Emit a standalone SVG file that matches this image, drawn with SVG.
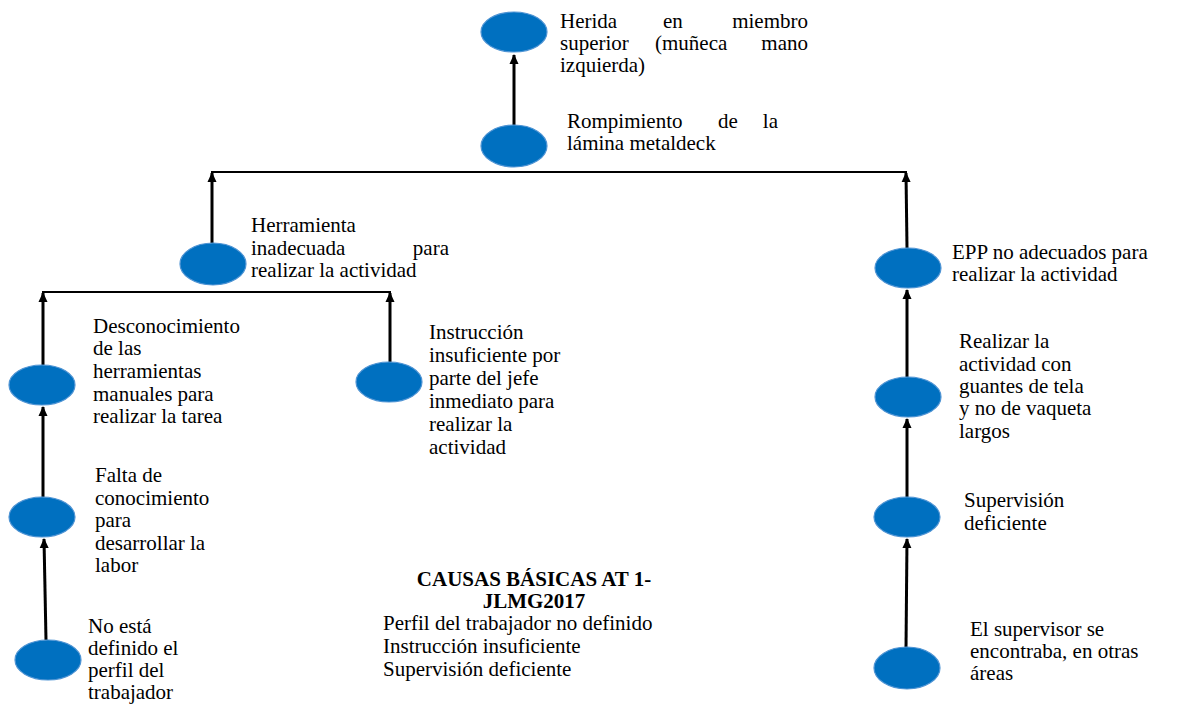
<svg xmlns="http://www.w3.org/2000/svg" width="1182" height="704" viewBox="0 0 1182 704">
<style>
.n{fill:#0070C0;stroke:#4f94d4;stroke-width:1.2}
.t{font-family:'Liberation Serif','Times New Roman',serif;font-size:21px;fill:#000}
.b{font-family:'Liberation Serif','Times New Roman',serif;font-size:21px;font-weight:bold;fill:#000}
.e{text-anchor:end}
.m{text-anchor:middle}
.c{stroke:#000;stroke-width:3;fill:none}
.h{stroke:#000;stroke-width:2;fill:none}
</style>
<defs>
<marker id="ah" markerUnits="userSpaceOnUse" markerWidth="10" markerHeight="10" refX="9" refY="5" orient="auto">
<path d="M0,0.5 L10,5 L0,9.5 z" fill="#000"/>
</marker>
</defs>
<rect width="1182" height="704" fill="#fff"/>
<g id="connectors">
<line class="c" x1="514" y1="125" x2="514" y2="55" marker-end="url(#ah)"/>
<line class="h" x1="211" y1="172" x2="907" y2="172"/>
<line class="c" x1="212" y1="243" x2="212" y2="173" marker-end="url(#ah)"/>
<line class="c" x1="907" y1="248" x2="906" y2="173" marker-end="url(#ah)"/>
<line class="h" x1="42" y1="292" x2="391" y2="292"/>
<line class="c" x1="43" y1="365" x2="43" y2="293" marker-end="url(#ah)"/>
<line class="c" x1="390" y1="362" x2="390" y2="293" marker-end="url(#ah)"/>
<line class="c" x1="43" y1="497" x2="43" y2="407" marker-end="url(#ah)"/>
<line class="c" x1="46" y1="640" x2="44" y2="539" marker-end="url(#ah)"/>
<line class="c" x1="907" y1="377" x2="907" y2="290" marker-end="url(#ah)"/>
<line class="c" x1="907" y1="497" x2="907" y2="419" marker-end="url(#ah)"/>
<line class="c" x1="906" y1="648" x2="907" y2="539" marker-end="url(#ah)"/>
</g>
<g id="n1">
<ellipse class="n" cx="514" cy="32" rx="33" ry="20"/>
<text class="t" x="560" y="28">Herida</text>
<text class="t" x="663" y="28">en</text>
<text class="t e" x="808" y="28">miembro</text>
<text class="t" x="560" y="50">superior</text>
<text class="t" x="655" y="50">(muñeca</text>
<text class="t e" x="808" y="50">mano</text>
<text class="t" x="560" y="72">izquierda)</text>
</g>
<g id="n2">
<ellipse class="n" cx="514" cy="146" rx="33" ry="21"/>
<text class="t" x="567" y="128">Rompimiento</text>
<text class="t" x="718" y="128">de</text>
<text class="t e" x="778" y="128">la</text>
<text class="t" x="567" y="150">lámina metaldeck</text>
</g>
<g id="n3">
<ellipse class="n" cx="213" cy="264" rx="33" ry="21"/>
<text class="t" x="251" y="232">Herramienta</text>
<text class="t" x="251" y="255">inadecuada</text>
<text class="t e" x="449" y="255">para</text>
<text class="t" x="251" y="277">realizar la actividad</text>
</g>
<g id="n4">
<ellipse class="n" cx="42" cy="385" rx="33" ry="20"/>
<text class="t" x="93" y="333">Desconocimiento</text>
<text class="t" x="93" y="355">de las</text>
<text class="t" x="93" y="378">herramientas</text>
<text class="t" x="93" y="401">manuales para</text>
<text class="t" x="93" y="423">realizar la tarea</text>
</g>
<g id="n5">
<ellipse class="n" cx="389" cy="382" rx="33" ry="20"/>
<text class="t" x="429" y="339">Instrucción</text>
<text class="t" x="429" y="362">insuficiente por</text>
<text class="t" x="429" y="385">parte del jefe</text>
<text class="t" x="429" y="408">inmediato para</text>
<text class="t" x="429" y="431">realizar la</text>
<text class="t" x="429" y="454">actividad</text>
</g>
<g id="n6">
<ellipse class="n" cx="42" cy="517" rx="33" ry="20"/>
<text class="t" x="95" y="482">Falta de</text>
<text class="t" x="95" y="505">conocimiento</text>
<text class="t" x="95" y="527">para</text>
<text class="t" x="95" y="550">desarrollar la</text>
<text class="t" x="95" y="572">labor</text>
</g>
<g id="n7">
<ellipse class="n" cx="48" cy="660" rx="33" ry="20"/>
<text class="t" x="88" y="633">No está</text>
<text class="t" x="88" y="655">definido el</text>
<text class="t" x="88" y="677">perfil del</text>
<text class="t" x="88" y="699">trabajador</text>
</g>
<g id="n8">
<ellipse class="n" cx="908" cy="268" rx="33" ry="20"/>
<text class="t" x="952" y="259">EPP no adecuados para</text>
<text class="t" x="952" y="281">realizar la actividad</text>
</g>
<g id="n9">
<ellipse class="n" cx="908" cy="397" rx="33" ry="20"/>
<text class="t" x="959" y="348">Realizar la</text>
<text class="t" x="959" y="371">actividad con</text>
<text class="t" x="959" y="393">guantes de tela</text>
<text class="t" x="959" y="415">y no de vaqueta</text>
<text class="t" x="959" y="438">largos</text>
</g>
<g id="n10">
<ellipse class="n" cx="907" cy="517" rx="33" ry="20"/>
<text class="t" x="964" y="507">Supervisión</text>
<text class="t" x="964" y="530">deficiente</text>
</g>
<g id="n11">
<ellipse class="n" cx="907" cy="668" rx="33" ry="21"/>
<text class="t" x="970" y="636">El supervisor se</text>
<text class="t" x="970" y="658">encontraba, en otras</text>
<text class="t" x="970" y="680">áreas</text>
</g>
<g id="summary">
<text class="b m" x="534" y="586">CAUSAS BÁSICAS AT 1-</text>
<text class="b m" x="534" y="608">JLMG2017</text>
<text class="t" x="383" y="630">Perfil del trabajador no definido</text>
<text class="t" x="383" y="653">Instrucción insuficiente</text>
<text class="t" x="383" y="676">Supervisión deficiente</text>
</g>
</svg>
